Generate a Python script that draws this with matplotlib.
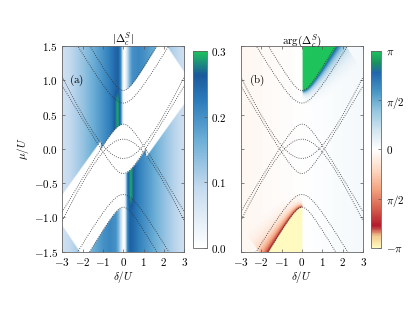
import numpy as np
import matplotlib.pyplot as plt
from matplotlib.colors import LinearSegmentedColormap

plt.rcParams['font.family'] = 'serif'
plt.rcParams['font.serif'] = ['DejaVu Serif']
plt.rcParams['mathtext.fontset'] = 'cm'
plt.rcParams['font.size'] = 8

# dotted band edges: mu = c + sqrt(d^2 + (s*delta)^2), plus the mirror -mu
band_c = [0.651, 0.331, -1.198, -0.60]
band_d = [0.199, 0.335, 1.058, 0.24]
band_s = [0.5, 0.5, 0.661, 0.5]

# borders of the normal (white) region, upper-right half
lower_pts = [(1.15, -0.10), (3.0, 0.67)]
corner_pts = [(2.13, 1.50), (3.0, 1.11)]

# |Delta| profile vs distance from the white stripe near delta = 0
stripe_pos = 0.03
prof_dist = [0.0, 0.06, 0.15, 0.28, 0.4, 0.7, 1.0, 1.5, 2.0, 2.5, 3.0]
prof_strong = [0.0, 0.04, 0.2, 0.255, 0.25, 0.22, 0.2, 0.165, 0.13, 0.1, 0.075]
prof_weak = [0.0, 0.015, 0.08, 0.16, 0.2, 0.21, 0.2, 0.165, 0.13, 0.1, 0.075]

xticks = [-3, -2, -1, 0, 1, 2, 3]
yticks = [-1.5, -1.0, -0.5, 0.0, 0.5, 1.0, 1.5]
cb_a_ticks = [0.0, 0.1, 0.2, 0.3]
cb_b_ticks = [-np.pi, -np.pi / 2, 0, np.pi / 2, np.pi]
cb_b_labels = [r'$-\pi$', r'$\pi/2$', r'$0$', r'$\pi/2$', r'$\pi$']

dl = np.linspace(-3, 3, 601)
mu = np.linspace(-1.5, 1.5, 601)
X, M = np.meshgrid(dl, mu)


def edge(i, x):
    return band_c[i] + np.sqrt(band_d[i] ** 2 + (band_s[i] * x) ** 2)


def line(pts, x):
    (x0, y0), (x1, y1) = pts
    return y0 + (y1 - y0) * (x - x0) / (x1 - x0)


A1 = edge(0, X)
Dl = edge(3, X)

# normal-state region, built for the upper-right half and rotated by 180 deg
lens = np.abs(M) < -Dl


def right_part(x, m):
    lens_bot = np.where(np.abs(x) < 1.1, edge(3, x), -9)
    low = np.maximum(line(lower_pts, x), lens_bot)
    return (x > 0) & (m > low) & (m < edge(0, x)) & (m < line(corner_pts, x))


white = lens | right_part(X, M) | right_part(-X, -M)

# |Delta| field
ad = np.abs(X - stripe_pos)
strong = np.interp(ad, prof_dist, prof_strong)
weak = np.interp(ad, prof_dist, prof_weak)
side = (X < stripe_pos) == (M > 0)
amp = np.where(side, strong, weak)
win = np.clip((np.abs(M) - 0.15) / 0.12, 0, 1) * np.clip((0.9 - np.abs(M)) / 0.2, 0, 1)
bump = 0.034 * np.exp(-((ad - 0.32) / 0.17) ** 2) * win
amp = amp + bump * side
amp = np.where(white, 0.0, amp)

# phase field
ph = 0.05 * X
near = white & (X > 0) & (M < A1)
w = 0.03 + 0.09 * X
ph = np.where(near, np.maximum(ph, np.pi * 0.9 * np.exp(-(A1 - M) / w)), ph)
ph = np.where((X > 0) & (M >= A1), np.pi, ph)
near2 = white & (X < 0) & (M > -A1)
w2 = 0.03 + 0.09 * (-X)
ph = np.where(near2, np.minimum(ph, -np.pi * 0.85 * np.exp(-(M + A1) / w2)), ph)
ph = np.where((X < 0) & (M <= -A1), -np.pi, ph)

cmap_a = LinearSegmentedColormap.from_list('a', [
    (0.0, '#ffffff'), (0.3, '#c6dbef'), (0.55, '#6baed6'),
    (0.75, '#2b7bba'), (0.88, '#1b5a9c'), (1.0, '#1ec45c')])
cmap_b = LinearSegmentedColormap.from_list('b', [
    (0.0, '#fffac0'), (0.06, '#f3c98e'), (0.11, '#b2182b'), (0.2, '#d6604d'),
    (0.3, '#f4a582'), (0.4, '#fddbc7'), (0.5, '#ffffff'), (0.6, '#d1e5f0'),
    (0.7, '#92c5de'), (0.8, '#4393c3'), (0.89, '#2166ac'), (0.94, '#1a8f60'),
    (1.0, '#1ec45c')])

fig = plt.figure(figsize=(4.15, 3.12), dpi=100)
ax1 = fig.add_axes([0.150, 0.193, 0.294, 0.660])
cax1 = fig.add_axes([0.465, 0.205, 0.034, 0.632])
ax2 = fig.add_axes([0.580, 0.193, 0.295, 0.660])
cax2 = fig.add_axes([0.893, 0.205, 0.026, 0.632])

im1 = ax1.imshow(amp, origin='lower', extent=[-3, 3, -1.5, 1.5], aspect='auto',
                 cmap=cmap_a, vmin=0, vmax=0.3, interpolation='bilinear')
im2 = ax2.imshow(ph, origin='lower', extent=[-3, 3, -1.5, 1.5], aspect='auto',
                 cmap=cmap_b, vmin=-np.pi, vmax=np.pi, interpolation='bilinear')

for ax in (ax1, ax2):
    for i in range(4):
        e = edge(i, dl)
        ax.plot(dl, e, ls=':', color='#333333', lw=0.6)
        ax.plot(dl, -e, ls=':', color='#333333', lw=0.6)
    ax.set_xlim(-3, 3)
    ax.set_ylim(-1.5, 1.5)
    ax.set_xticks(xticks)
    ax.set_xticklabels([f'${t}$' for t in xticks])
    ax.set_yticks(yticks)
    ax.tick_params(direction='in', length=2.5, width=0.5, top=True, right=True,
                   color='#555555', pad=3)
    for s in ax.spines.values():
        s.set_color('#666666')
        s.set_linewidth(0.6)
    ax.set_xlabel(r'$\delta/U$', labelpad=1)

ax1.set_yticklabels([f'${t:.1f}$' for t in yticks])
ax2.set_yticklabels([])
ax1.set_ylabel(r'$\mu/U$', labelpad=2)
ax1.set_title(r'$|\Delta_c^S|$', pad=2, fontsize=8)
ax2.set_title(r'$\arg(\Delta_c^S)$', pad=2, fontsize=8)
ax1.text(-2.3, 1.0, '$(\\mathrm{a})$', ha='center', va='center')
ax2.text(-2.2, 1.0, '$(\\mathrm{b})$', ha='center', va='center')

cb1 = fig.colorbar(im1, cax=cax1, ticks=cb_a_ticks)
cb1.ax.set_yticklabels([f'${t:.1f}$' for t in cb_a_ticks])
cb2 = fig.colorbar(im2, cax=cax2, ticks=cb_b_ticks)
cb2.ax.set_yticklabels(cb_b_labels)
for cb in (cb1, cb2):
    cb.outline.set_edgecolor('#666666')
    cb.outline.set_linewidth(0.6)
    cb.ax.tick_params(length=2, width=0.5, direction='in', color='#555555', pad=3)

fig.savefig('out.png', dpi=100)
